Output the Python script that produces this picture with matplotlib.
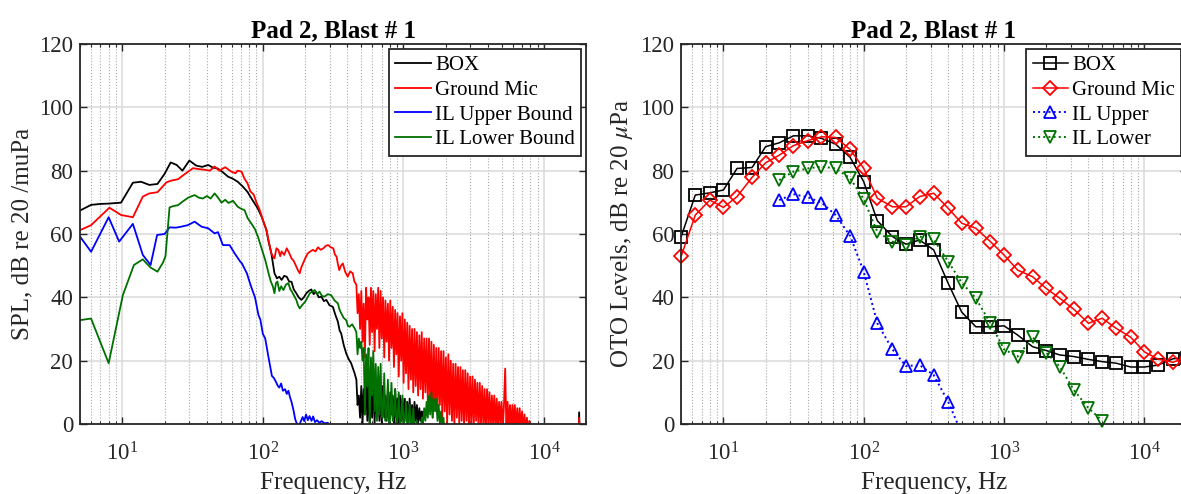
import numpy as np
import matplotlib
matplotlib.use("Agg")
import matplotlib.pyplot as plt
from matplotlib.ticker import LogLocator, NullFormatter

plt.rcParams['font.family'] = ['Liberation Serif', 'DejaVu Serif']
plt.rcParams['mathtext.fontset'] = 'stix'

# ---- left panel: narrowband spectra (smooth part, 5-450 Hz) ----
box_f = [5, 6, 7, 8, 9.8, 11.9, 13.6, 15.6, 17.8, 20, 22.1, 24.4, 26.8, 30, 33.6,
         37, 40.9, 44, 47.7, 52, 56.6, 61, 66.3, 72, 77.8, 85, 92, 98, 106, 110,
         115, 121, 126, 131, 136, 142, 148, 154, 160, 166, 173, 180, 188, 196, 204,
         212, 221, 230, 239, 250, 261, 272, 283, 298, 315, 328, 342, 352, 361, 376,
         392, 408, 425, 438, 450]
box_db = [67.4, 69.2, 69.5, 69.6, 69.9, 76.2, 76.5, 75.5, 75.8, 79.0, 82.6, 81.8, 80.0, 83.2, 81.6,
          81.2, 81.8, 81.0, 80.7, 79.5, 78.1, 77.5, 76.5, 75.0, 73.3, 70.5, 68.1, 65.5, 61.3, 57.5,
          53.9, 47.6, 46.0, 46.5, 45.5, 46.8, 46.5, 45.0, 44.9, 42.5, 41.3, 40.0, 39.2, 40.0, 41.3,
          42.0, 42.5, 41.0, 41.8, 40.0, 40.2, 38.8, 39.2, 37.5, 37.0, 34.5, 32.3, 29.5, 28.6, 25.0,
          22.3, 20.5, 19.2, 17.5, 16.0]

mic_f = [5, 6, 8.1, 9.8, 11.9, 14, 15.5, 17.8, 20.6, 22, 24.9, 28, 31.9, 35, 38.5,
         42, 45.4, 49, 54, 59.6, 64, 66, 70.6, 74, 77.8, 81.5, 86.2, 90, 95, 100,
         106, 111, 115, 118, 121, 125, 129, 133, 136, 142, 148, 154, 160, 166, 173,
         178, 183, 188, 193, 201, 209, 218, 227, 237, 247, 258, 270, 281, 292, 304,
         317, 326, 335, 342, 350, 360, 371, 386, 402, 418, 436, 448]
mic_db = [61.2, 62.8, 68.3, 66.0, 65.3, 71.8, 72.8, 73.2, 76.3, 76.8, 77.3, 79.0, 80.8, 80.5, 80.3,
          80.0, 81.3, 80.0, 81.1, 79.7, 79.2, 80.0, 79.7, 77.5, 76.0, 73.5, 72.4, 70.0, 67.6, 64.5,
          61.3, 57.0, 53.9, 52.9, 52.3, 55.5, 55.0, 53.0, 54.5, 53.4, 55.5, 54.0, 52.3, 51.5, 49.7,
          48.5, 47.6, 49.5, 50.7, 52.5, 53.9, 54.5, 55.0, 54.5, 55.8, 55.0, 55.5, 56.3, 56.5, 55.8,
          55.5, 53.5, 52.8, 50.5, 48.6, 50.0, 50.7, 48.0, 46.5, 48.2, 47.6, 45.0]

upper_f = [5, 6, 8, 9.5, 11.9, 14, 15.9, 17.7, 20, 21.7, 24, 26.2, 29.3, 32.7, 36.7,
           40.9, 45.4, 48, 52, 58, 63, 69, 71, 77, 81, 85, 88, 93, 96, 100,
           104, 109, 113, 116, 120, 124, 128, 131, 135, 139, 144, 148, 152, 156, 160,
           165, 170, 175, 180, 186, 192, 197, 203, 209, 215, 222, 228, 235, 243, 252,
           262, 275, 290, 305, 330]
upper_db = [59.2, 54.4, 65.3, 57.6, 63.2, 53.4, 50.2, 59.7, 60.0, 62.1, 62.0, 62.3, 62.8, 63.9, 62.3,
            61.8, 60.2, 60.6, 56.5, 56.5, 53.9, 51.3, 50.7, 47.6, 44.5, 41.8, 40.0, 34.5, 33.0, 28.5,
            27.0, 21.8, 18.0, 15.2, 14.5, 13.3, 12.0, 11.5, 12.8, 10.5, 11.0, 9.5, 10.5, 8.5, 7.0,
            4.5, 1.5, 0.0, -1.0, 0.8, 2.2, 0.9, 3.0, 1.2, 2.5, 1.0, 2.4, 0.6, 1.2, 0.4,
            0.9, 0.2, 0.4, -1.5, -6.0]

lower_f = [5, 6, 8, 10.1, 12.1, 14, 15.8, 17.8, 19.5, 20.3, 21.7, 23, 24.9, 27, 29.5,
           32.7, 35, 37.4, 40, 42.5, 45.4, 48, 50.8, 54, 57, 61.3, 66.3, 70, 74.2, 78,
           82.9, 88, 92.4, 98, 104, 110, 114, 118, 121, 124, 127, 131, 135, 140, 146,
           152, 157, 161, 167, 173, 178, 183, 190, 200, 208, 216, 225, 234, 243, 253,
           263, 274, 290, 306, 324, 342, 352, 361, 376, 392, 403, 414, 432, 450]
lower_db = [32.8, 33.3, 19.2, 40.7, 50.2, 52.0, 49.5, 48.1, 51.0, 53.0, 68.4, 68.8, 69.1, 70.3, 71.5,
            72.3, 71.5, 71.2, 72.0, 71.2, 72.8, 71.5, 69.9, 70.8, 69.8, 70.5, 68.6, 68.0, 67.5, 65.0,
            63.3, 61.5, 59.1, 55.5, 51.8, 47.5, 45.0, 43.4, 41.3, 44.5, 45.0, 42.0, 43.5, 42.3, 44.0,
            44.5, 42.5, 41.8, 40.5, 39.2, 37.5, 36.5, 37.5, 38.6, 40.0, 41.3, 41.8, 42.3, 41.0, 41.8,
            40.5, 40.2, 41.0, 40.7, 39.0, 38.1, 36.0, 35.0, 33.5, 32.8, 31.0, 30.7, 31.5, 30.2]

# ---- left panel: noisy high-frequency part, shared bins (463 Hz up) ----
f_hi = [463, 472, 482, 492, 502, 512, 522, 532, 543, 554,
        565, 576, 588, 599, 611, 624, 636, 649, 662, 675,
        689, 702, 716, 731, 745, 760, 776, 791, 807, 823,
        840, 857, 874, 891, 909, 927, 946, 965, 984, 1004,
        1024, 1044, 1065, 1087, 1108, 1131, 1153, 1176, 1200, 1224,
        1248, 1273, 1299, 1325, 1351, 1378, 1406, 1434, 1463, 1492,
        1522, 1552, 1583, 1615, 1647, 1680, 1714, 1748, 1783, 1819,
        1855, 1892, 1930, 1969, 2008, 2048, 2089, 2131, 2173, 2217,
        2261, 2306, 2353, 2400, 2448, 2497, 2547, 2598, 2649, 2702,
        2756, 2811, 2868, 2925, 2984, 3043, 3104, 3166, 3230, 3294,
        3360, 3427, 3496, 3566, 3637, 3710, 3784, 3860, 3937, 4016,
        4096, 4178, 4262, 4347, 4434, 4522, 4613, 4705, 4799, 4895,
        4993, 5093, 5195, 5299, 5405, 5513, 5623, 5735, 5850, 5967,
        6086, 6208, 6332, 6459, 6588, 6720, 6854, 6991, 7131, 7274,
        7419, 7568, 7719, 7874, 8031, 8192, 8356]
box_hi = [14, 6, 9, 2, 12, 0, 11, 3, 15, 1,
          13, -1, 12, 2, 14, 0, 11, 3, 12, 1,
          10, 0, 12, 2, 9, 1, 11, 0, 10, 3,
          9, 0, 11, 2, 8, 0, 9, 1, 8, 0,
          8, 2, 7, 0, 8, 1, 6, 0, 7, 1,
          6, 0, 5, 1, 4, -2, -10]
mic_hi = [44, 35, 41, 30, 42, 26, 38, 21, 43, 33,
          40, 25, 43, 29, 42, 23, 41, 30, 43, 24,
          42, 27, 40, 21, 39, 26, 38, 20, 39, 24,
          37, 18, 36, 22, 35, 15, 34, 20, 35, 13,
          33, 16, 32, 11, 31, 14, 30, 10, 30, 12,
          29, 9, 28, 11, 29, 8, 27, 10, 27, 7,
          27, 6, 26, 2, 25, 5, 24, 3, 24, 6,
          23, 2, 23, 4, 21, 0, 22, 3, 20, 1,
          19, -1, 19, 2, 18, 0, 18, 1, 17, -1,
          17, 1, 16, -2, 15, 0, 15, -1, 14, 1,
          13, -2, 13, 0, 12, -1, 11, -2, 11, 0,
          10, -2, 9, 0, 9, -2, 8, -1, 7, 0,
          7, -2, 6, 17.5, -2, 7, -1, 6, -2, 6,
          -1, 6, -2, 5, -3, 5, -2, 4, -3, 3,
          -3, 2, -3, 1, -4, 0, -8]
lower_hi = [29, 22, 27, 24, 26, 20, 24, 3, 22, 12,
            24, 0, 21, 9, 23, 4, 19, 1, 18, 3,
            19, 2, 4, 16, 1, 3, 14, 0, 2, 13,
            1, 3, 11, 0, 2, 10, -1, 2, 9, 0,
            1, 7, -1, 1, 6, -1, 0, 5, -2, 0,
            1, -3, -1, -4, 2, 0, 5, 1, 7, 2,
            9, 3, 10, 2, 8, 4, 8, 1, 6, 0,
            4, -1, 2, -4, -10]

# lone spike near the top of the band
spike_f = [17500, 17800, 18100]
box_spike = [-10, 3.7, -10]
mic_spike = [-10, 2.0, -10]

# ---- right panel: one-third octave band levels ----
oto_f = [5, 6.3, 8, 10, 12.5, 16, 20, 25, 31.5, 40, 50, 63, 80, 100, 125, 160, 200, 250,
         315, 400, 500, 630, 800, 1000, 1250, 1600, 2000, 2500, 3150, 4000, 5000, 6300,
         8000, 10000, 12500, 16000, 20000]
box_oto = [59.2, 72.3, 73.0, 73.9, 80.7, 81.0, 87.6, 88.8, 91.0, 91.0, 90.2, 88.4, 84.2, 76.5,
           64.2, 59.2, 56.8, 58.1, 55.0, 44.4, 35.3, 30.7, 30.7, 31.0, 28.1, 24.4, 23.2, 21.8,
           21.3, 20.4, 19.7, 19.2, 18.0, 18.0, 18.6, 20.6, 21.0]
mic_oto = [53.0, 66.0, 70.7, 68.4, 71.8, 77.9, 82.5, 84.9, 87.9, 89.5, 90.7, 90.5, 86.7, 80.7,
           71.3, 68.6, 68.6, 71.8, 72.9, 68.1, 63.4, 61.8, 57.6, 53.4, 48.6, 46.5, 42.8, 39.7,
           36.2, 31.8, 33.4, 30.2, 27.4, 22.8, 20.5, 19.5, 21.0]
upper_oto_f = [25, 31.5, 40, 50, 63, 80, 100, 125, 160, 200, 250, 315, 400, 500]
upper_oto = [70.7, 72.6, 71.6, 69.9, 66.0, 59.4, 48.1, 31.8, 23.6, 18.3, 18.6, 15.5, 7.0, -3.0]
lower_oto_f = [25, 31.5, 40, 50, 63, 80, 100, 125, 160, 200, 250, 315, 400, 500, 630, 800,
               1000, 1250, 1600, 2000, 2500, 3150, 4000, 5000]
lower_oto = [77.0, 79.7, 80.7, 81.3, 80.7, 77.6, 71.0, 60.7, 57.6, 56.5, 59.2, 58.3, 51.3, 44.6,
             39.7, 31.8, 23.6, 21.3, 27.4, 22.5, 18.1, 10.7, 5.0, 1.1]

GREEN = '#007000'
DARK = '#262626'


def style_axes(ax):
    ax.set_xscale('log')
    ax.set_xlim(5, 20000)
    ax.set_ylim(0, 120)
    ax.set_yticks(range(0, 121, 20))
    ax.xaxis.set_major_locator(LogLocator(base=10, numticks=12))
    ax.xaxis.set_minor_locator(LogLocator(base=10, subs=np.arange(2, 10), numticks=40))
    ax.xaxis.set_minor_formatter(NullFormatter())
    ax.grid(True, which='major', color='#dadada', linewidth=1.1, linestyle='-')
    ax.grid(True, which='minor', axis='x', color='#a8a8a8', linewidth=0.8, linestyle=':')
    ax.set_axisbelow(True)
    ax.tick_params(which='both', direction='in', top=True, right=True,
                   colors=DARK, labelsize=16.5)
    ax.tick_params(which='major', length=5, width=1.0)
    ax.tick_params(which='minor', length=2.5, width=0.8)
    ax.tick_params(axis='x', pad=13)
    ax.tick_params(axis='y', pad=5)
    for s in ax.spines.values():
        s.set_linewidth(1.3)
        s.set_color(DARK)
    ax.set_xlabel('Frequency, Hz', fontsize=18, color=DARK, labelpad=5)
    ax.set_title('Pad 2, Blast # 1', fontsize=18, fontweight='bold', pad=5)


fig = plt.figure(figsize=(11.81, 4.94), dpi=100)
ax1 = fig.add_axes([0.0677, 0.1417, 0.4287, 0.7692])
ax2 = fig.add_axes([0.5768, 0.1417, 0.4279, 0.7692])

# left: narrowband SPL
ax1.plot(box_f + f_hi[:len(box_hi)] + spike_f, box_db + box_hi + box_spike,
         color='k', lw=1.3, label='BOX')
ax1.plot(mic_f + f_hi[:len(mic_hi)] + spike_f, mic_db + mic_hi + mic_spike,
         color='#ff0000', lw=1.3, label='Ground Mic')
ax1.plot(upper_f, upper_db, color='#0000ff', lw=1.3, label='IL Upper Bound')
ax1.plot(lower_f + f_hi[:len(lower_hi)], lower_db + lower_hi,
         color=GREEN, lw=1.3, label='IL Lower Bound')
style_axes(ax1)
ax1.set_ylabel('SPL, dB re 20 /muPa', fontsize=18, color=DARK, labelpad=4)
leg1 = ax1.legend(loc='upper right', fontsize=15, fancybox=False, edgecolor=DARK,
                  framealpha=1, borderaxespad=0.25, handlelength=1.7, handletextpad=0.2,
                  labelspacing=0.25, borderpad=0.3)
leg1.get_frame().set_linewidth(1.3)

# right: one-third octave levels
mk = dict(markerfacecolor='none', markeredgewidth=1.3)
ax2.plot(oto_f, box_oto, '-s', color='k', lw=1.1, ms=8.5, clip_on=False, label='BOX', **mk)
ax2.plot(oto_f, mic_oto, '-D', color='#ff0000', lw=1.1, ms=7.5, clip_on=False,
         label='Ground Mic', **mk)
ax2.plot(upper_oto_f, upper_oto, ':^', color='#0000ff', lw=1.4, ms=9, label='IL Upper', **mk)
ax2.plot(lower_oto_f, lower_oto, ':v', color=GREEN, lw=1.4, ms=9, clip_on=False,
         label='IL Lower', **mk)
style_axes(ax2)
ax2.set_ylabel(r'OTO Levels, dB re 20 $\mu$Pa', fontsize=18, color=DARK, labelpad=4)
leg2 = ax2.legend(loc='upper right', fontsize=15, fancybox=False, edgecolor=DARK,
                  framealpha=1, borderaxespad=0.25, handlelength=1.7, handletextpad=0.2,
                  labelspacing=0.25, borderpad=0.3)
leg2.get_frame().set_linewidth(1.3)

fig.savefig('out.png', dpi=100)
